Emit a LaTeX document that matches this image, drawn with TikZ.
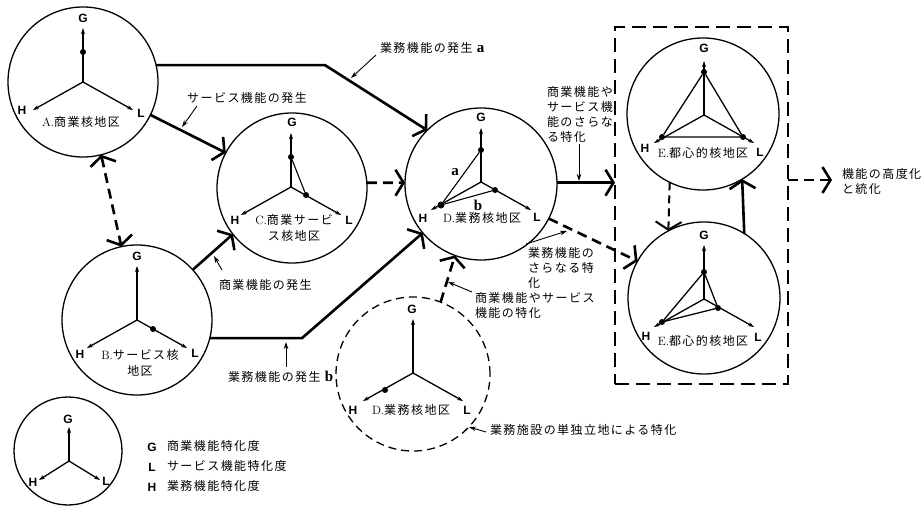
\documentclass[tikz,border=0pt]{standalone}
\usepackage{fontspec}
\newfontfamily\cjk[LetterSpace=12]{Noto Sans CJK JP}
\newfontfamily\lab{Liberation Sans}
\newfontfamily\bser{Liberation Serif}
\usetikzlibrary{arrows.meta}
\begin{document}
\begin{tikzpicture}[x=1pt,y=-1pt,
  every node/.style={inner sep=0pt, outer sep=0pt},
  >={Straight Barb[length=8pt,width=26pt]},
  ring/.style={circle, draw, line width=1.3pt, minimum size=150pt},
  conn/.style={line width=2.6pt, ->},
  dconn/.style={conn, dash pattern=on 10pt off 6pt},
  ptr/.style={line width=0.9pt, -{Stealth[length=7pt,width=4.5pt]}},
  ax/.style={line width=1.3pt, -{Stealth[length=6pt,width=4pt]}},
  jp/.style={font=\cjk\fontsize{12}{15}\selectfont, align=left},
  jpc/.style={font=\cjk\fontsize{12}{16}\selectfont, align=center},
  axl/.style={font=\lab\bfseries\fontsize{12}{12}\selectfont},
  ab/.style={font=\bser\bfseries\fontsize{15}{15}\selectfont},
  dot/.style={circle, fill, minimum size=6pt, inner sep=0pt},
  tri/.pic={\draw[ax] (0,0) -- (0,-54); \draw[ax] (0,0) -- (-50,28); \draw[ax] (0,0) -- (50,28);}
]
\useasboundingbox (0,0) rectangle (923,514);

% ---- circles
\node[ring] (A) at (83,82) {};
\node[ring] (B) at (137,320) {};
\node[ring] (C) at (292,188) {};
\node[ring, minimum size=152pt] (D) at (481,184) {};
\node[ring, minimum size=154pt, dash pattern=on 8pt off 5pt] (Dp) at (413,374) {};
\node[ring, minimum size=152pt] (E1) at (703,114) {};
\node[ring, minimum size=152pt] (E2) at (704,298) {};
\node[ring, minimum size=108pt] (Lg) at (68,451) {};
\node[draw, line width=2.5pt, dash pattern=on 14pt off 7pt, minimum width=173pt, minimum height=357pt] (R) at (701.5,205.5) {};

% ---- axes
\pic at (83,82) {tri};
\pic at (137,320) {tri};
\pic at (291,187) {tri};
\pic at (481,182) {tri};
\pic at (413,373) {tri};
\pic at (704,115) {tri};
\pic at (704,299) {tri};
\coordinate (Lo) at (69,461);
\draw[ax] (Lo) -- ++(0,-34);
\draw[ax] (Lo) -- ++(-30,19);
\draw[ax] (Lo) -- ++(31,19);

% ---- dots and inner lines
\node[dot] (Ag) at (83,52) {};
\node[dot] (Bl) at (153,329) {};
\node[dot] (Cg) at (291,157) {};
\node[dot] (Cl) at (306,195) {};
\draw[line width=1.1pt] (Cg) -- (Cl);
\node[dot] (Dg) at (481,150) {};
\node[dot] (Dl) at (495,190) {};
\node[dot, minimum size=7pt] (Dh) at (441,205) {};
\draw[line width=1.1pt] (Dg) -- (Dh) -- (Dl);
\node[dot] (Dph) at (385,390) {};
\node[dot] (Eg) at (704,72) {};
\node[dot] (Eh) at (662,137) {};
\node[dot] (El) at (743,137) {};
\draw[line width=1.3pt] (Eg) -- (Eh) -- (El) -- (Eg);
\node[dot] (Fg) at (704,272) {};
\node[dot] (Fh) at (662,322) {};
\node[dot] (Fl) at (718,308) {};
\draw[line width=1.3pt] (Fg) -- (Fh) -- (Fl) -- (Fg);

% ---- axis labels
\foreach \n/\x/\y/\t in {ag/83/18/G, ah/22/110/H, al/141/113/L,
  bg/137/256/G, bh/80/354/H, bl/195/353/L,
  cg/292/122/G, ch/235/220/H, cl/349/220/L,
  dg/481/117/G, dh/423/218/H, dl/537/217/L,
  pg/412/309/G, ph/353/410/H, pl/467/410/L,
  eg/704/48/G, eh/645/148/H, el/760/152/L,
  fg/704/235/G, fh/646/336/H, fl/758/337/L,
  lg/68/419/G, lh/33/482/H, ll/106/481/L,
  kg/152/447/G, kl/152/467/L, kh/152/487/H}
  {\node[axl] (\n) at (\x,\y) {\t};}
\node[ab] (ta) at (455,172) {a};
\node[ab] (tb) at (478,205) {b};

% ---- names
\node[jp] (An) at (81,122) {{\rmfamily A.}商業核地区};
\node[jpc] (Bn) at (140,363) {{\rmfamily B.}サービス核\\地区};
\node[jpc] (Cn) at (294,228) {{\rmfamily C.}商業サービ\\ ス核地区};
\node[jp] (Dn) at (482,218) {{\rmfamily D.}業務核地区};
\node[jp] (Dpn) at (411,410) {{\rmfamily D.}業務核地区};
\node[jp] (En) at (703,153) {{\rmfamily E.}都心的核地区};
\node[jp] (Fn) at (703,341) {{\rmfamily E.}都心的核地区};

% ---- connectors
\coordinate (a1) at (325,64);
\draw[conn] (A.13) -- (a1 |- A.13) -- (D.135);
\draw[conn] (A.-26) -- (C.152);
\draw[dconn, <->] (A.-76) -- (B.102);
\draw[conn] (B.42) -- (C.218);
\coordinate (b1) at (302,339);
\draw[conn] (B.-14) -- (b1 |- B.-14) -- (D.220);
\draw[dconn] (C.4) -- (D.179);
\draw[dconn] (Dp.69) -- (D.250);
\draw[conn] (D.1) -- (D.1 -| R.west);
\draw[dconn] (D.-27) -- (E2.151);
\draw[line width=2pt, dash pattern=on 8pt off 5pt, ->] (E1.244) -- (E2.118);
\draw[conn] (E2.58) -- (E1.-59);
\coordinate (out) at (832,180);
\draw[dconn] (R.east |- out) -- (out);

% ---- labels and pointers
\node[jp, anchor=west] (la) at (380,48) {業務機能の発生 {\bser\bfseries\fontsize{15}{15}\selectfont a}};
\coordinate (p1s) at (376,55); \coordinate (p1e) at (351,78);
\draw[ptr] (p1s) -- (p1e);
\node[jp] (lb) at (247,98) {サービス機能の発生};
\coordinate (p2s) at (197,106); \coordinate (p2e) at (182,127);
\draw[ptr] (p2s) -- (p2e);
\node[jp, anchor=west] (lc) at (219,285) {商業機能の発生};
\coordinate (p3s) at (222,270); \coordinate (p3e) at (214,256);
\draw[ptr] (p3s) -- (p3e);
\node[jp, anchor=west] (ld) at (228,377) {業務機能の発生 {\bser\bfseries\fontsize{15}{15}\selectfont b}};
\coordinate (p4s) at (286,367); \coordinate (p4e) at (286,342);
\draw[ptr] (p4s) -- (p4e);
\node[jp, anchor=west] (le) at (475,305) {商業機能やサービス\\機能の特化};
\coordinate (p5s) at (472,292); \coordinate (p5e) at (448,282);
\draw[ptr] (p5s) -- (p5e);
\node[jp, anchor=west] (lf) at (547,114) {商業機能や\\サービス機\\能のさらな\\る特化};
\coordinate (p6s) at (579,144); \coordinate (p6e) at (579,181);
\draw[ptr] (p6s) -- (p6e);
\node[jp, anchor=west] (lg2) at (528,268) {業務機能の\\さらなる特\\化};
\coordinate (p7s) at (526,244); \coordinate (p7e) at (567,231);
\draw[ptr] (p7s) -- (p7e);
\node[jp, anchor=west] (lh2) at (490,430) {業務施設の単独立地による特化};
\coordinate (p8s) at (486,432); \coordinate (p8e) at (469,427);
\draw[ptr] (p8s) -- (p8e);
\node[jp, anchor=west] (li) at (842,181) {機能の高度化\\と統化};

% ---- legend
\node[jp, anchor=west] (k1) at (167,446) {商業機能特化度};
\node[jp, anchor=west] (k2) at (167,466) {サービス機能特化度};
\node[jp, anchor=west] (k3) at (167,486) {業務機能特化度};
\end{tikzpicture}
\end{document}
